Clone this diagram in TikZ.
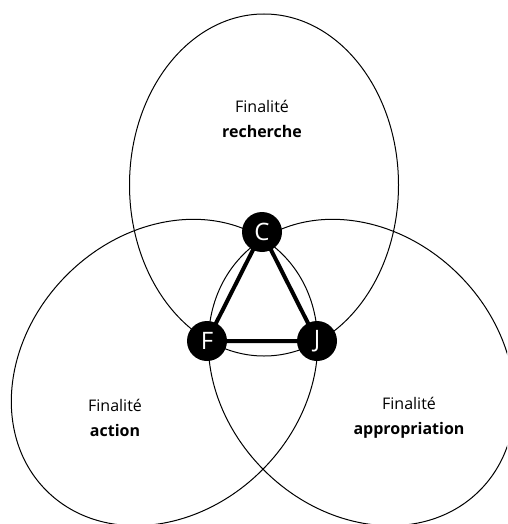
\documentclass[tikz,border=0pt]{standalone}
\usepackage{fontspec}
\setmainfont{Open Sans}
\usepackage{tikz}

\begin{document}
\begin{tikzpicture}[x=1pt, y=-1pt,
  pole/.style={circle, fill=black, text=white, minimum size=40pt, inner sep=0pt, font=\fontsize{24}{24}\selectfont},
  link/.style={line width=4pt},
  label/.style={align=center, font=\fontsize{16}{25}\selectfont}]
\useasboundingbox (0,0) rectangle (507,524);
\clip (0,0) rectangle (507,524);

\draw[line width=1pt] (264,185) ellipse (134.5 and 171);
\draw[line width=1pt, rotate around={45:(164.5,372.5)}] (164.5,372.5) ellipse (167 and 138);
\draw[line width=1pt, rotate around={-45:(361.5,372.5)}] (361.5,372.5) ellipse (167 and 138);

\node[label] (recherche) at (262,119) {Finalité\\\textbf{recherche}};
\node[label] (action) at (115,418) {Finalité\\\textbf{action}};
\node[label] (appropriation) at (409,418) {Finalité\\\textbf{appropriation}};

\coordinate (c0) at (262,232);
\coordinate (f0) at (207,341);
\coordinate (j0) at (317,341);
\draw[link] (c0) -- (f0) -- (j0) -- cycle;

\node[pole] (C) at (c0) {C};
\node[pole] (F) at (f0) {F};
\node[pole] (J) at (j0) {J};

\end{tikzpicture}
\end{document}
